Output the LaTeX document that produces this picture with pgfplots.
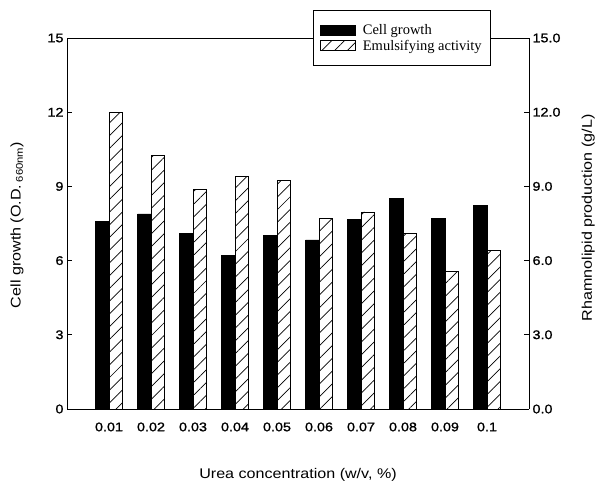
\documentclass[border=0pt]{standalone}
\usepackage{fontspec}
\setmainfont{Liberation Sans}
\usepackage{pgfplots}
\usepackage{pgfplotstable}
\pgfplotsset{compat=1.18}
\usetikzlibrary{patterns.meta}
\newfontfamily\labfont{Liberation Sans}[FakeStretch=1.15]
\newfontfamily\tickfont{Liberation Sans}[FakeStretch=1.15,FakeBold=1.2]
\newfontfamily\legfont{Liberation Serif}
\pgfplotstableread{
x cg ea
1 7.58 12.0
2 7.89 10.25
3 7.11 8.88
4 6.22 9.42
5 7.02 9.23
6 6.84 7.70
7 7.67 7.97
8 8.52 7.11
9 7.70 5.56
10 8.24 6.41
}\datatab
\begin{document}
\begin{tikzpicture}
\useasboundingbox (0,0) rectangle (595bp,487bp);
% right axis
\begin{axis}[
  at={(67bp,78bp)}, anchor=south west,
  scale only axis, width=462bp, height=371bp,
  xmin=0, xmax=11, ymin=0, ymax=15,
  axis x line=none,
  axis y line*=right,
  axis line style={line width=0.8bp},
  ytick={0,3,...,15},
  yticklabel style={font=\tickfont\fontsize{12.5bp}{14bp}\selectfont, /pgf/number format/.cd, fixed, fixed zerofill, precision=1, assume math mode=true},
  major tick length=5bp,
  tick style={line width=0.8bp, black},
  ylabel={Rhamnolipid production (g/L)},
  every axis y label/.style={at={(axis description cs:1.128,0.515)}, rotate=90, anchor=center, font=\labfont\fontsize{14bp}{16bp}\selectfont},
]
\addplot[draw=none] coordinates {(1,0)};
\end{axis}
% main axis
\begin{axis}[
  at={(67bp,78bp)}, anchor=south west,
  scale only axis, width=462bp, height=371bp,
  xmin=0, xmax=11, ymin=0, ymax=15,
  axis y line*=left,
  axis line style={line width=0.8bp},
  xtick={1,2,3,4,5,6,7,8,9,10},
  xticklabels={0.01,0.02,0.03,0.04,0.05,0.06,0.07,0.08,0.09,0.1},
  major x tick style={draw=none},
  ytick={0,3,...,15},
  major tick length=5bp,
  tick style={line width=0.8bp, black},
  ticklabel style={font=\tickfont\fontsize{12.5bp}{14bp}\selectfont, /pgf/number format/assume math mode=true},
  xticklabel style={yshift=-5bp},
  xlabel={Urea concentration (w/v, \%)},
  every axis x label/.style={at={(axis description cs:0.5,-0.178)}, anchor=center, font=\labfont\fontsize{14bp}{16bp}\selectfont},
  ylabel={Cell growth (O.D.\,\textsubscript{660nm})},
  every axis y label/.style={at={(axis description cs:-0.108,0.496)}, rotate=90, anchor=center, font=\labfont\fontsize{14bp}{16bp}\selectfont},
  ybar, bar width=0.32,
  legend style={at={(axis description cs:0.9177,1.0755)}, anchor=north east,
    draw=black, fill=white, line width=0.6bp,
    font=\legfont\fontsize{14.5bp}{16bp}\selectfont,
    inner xsep=7bp, inner ysep=12bp, row sep=0bp,
    /tikz/every odd column/.append style={column sep=5bp},
    cells={anchor=west, inner ysep=1bp}},
  legend image code/.code={\draw[#1] (0bp,-5bp) rectangle (35bp,5bp);},
]
\addplot[fill=black, draw=black, bar shift=-0.16] table[x=x, y=cg] {\datatab};
\addplot[draw=black, line width=0.7bp, pattern={Lines[angle=45,distance=9bp,line width=0.7bp]}, pattern color=black, bar shift=0.16] table[x=x, y=ea] {\datatab};
\legend{Cell growth, Emulsifying activity}
\end{axis}
\end{tikzpicture}
\end{document}
